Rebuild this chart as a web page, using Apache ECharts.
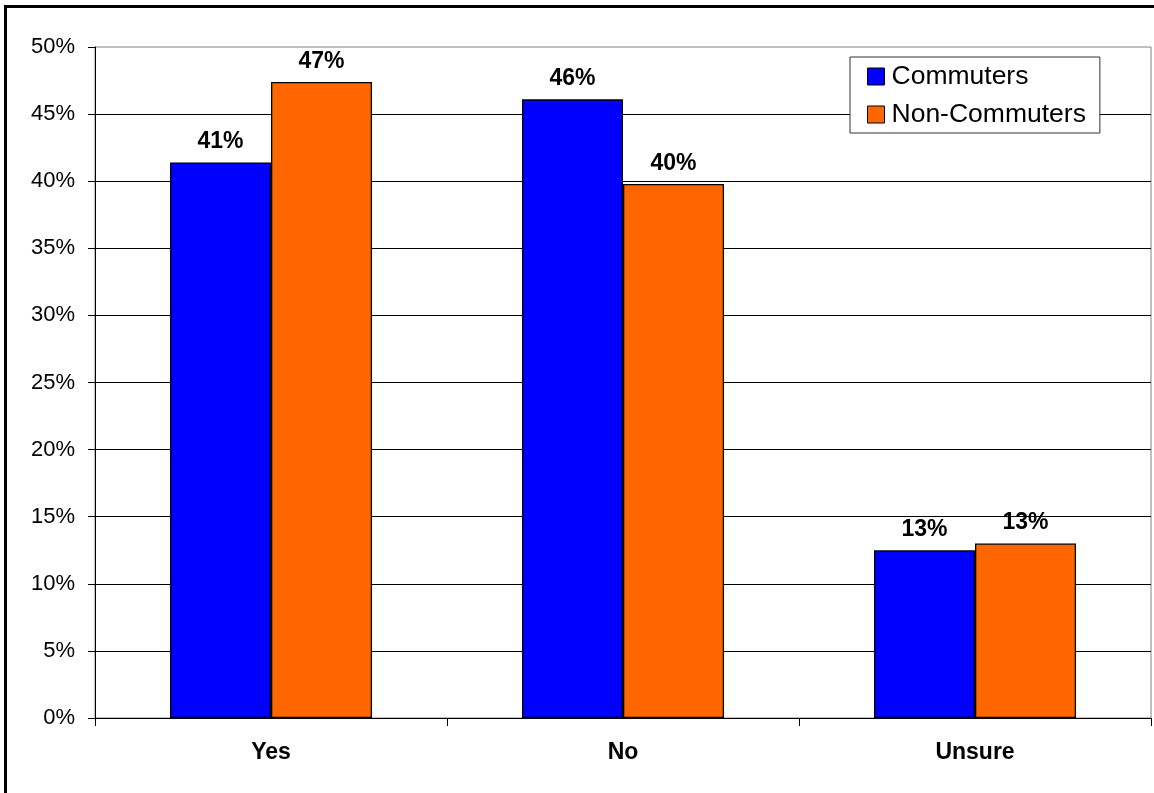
<!DOCTYPE html>
<html>
<head>
<meta charset="utf-8">
<title>Commuters vs Non-Commuters</title>
<script src="https://cdn.jsdelivr.net/npm/echarts@6/dist/echarts.min.js"></script>
<style>
  html, body { margin: 0; padding: 0; background: #fff; }
  #chart { width: 1154px; height: 793px; }
</style>
</head>
<body>
<div id="chart"></div>
<script>
// Survey answers by group (percent of respondents)
const categories = ['Yes', 'No', 'Unsure'];
const seriesNames = ['Commuters', 'Non-Commuters'];
const commuters = [41.4, 46.1, 12.5];
const nonCommuters = [47.4, 39.8, 13.0];
const yTicks = { min: 0, max: 50, step: 5 };

const FONT = '"Liberation Sans", Arial, sans-serif';

const chart = echarts.init(document.getElementById('chart'), null, { renderer: 'canvas' });

const valueLabel = {
  show: true,
  position: 'top',
  distance: 9,
  color: '#000',
  fontFamily: FONT,
  fontWeight: 'bold',
  fontSize: 23,
  formatter: p => Math.round(p.value) + '%'
};

chart.setOption({
  animation: false,
  backgroundColor: '#fff',
  textStyle: { fontFamily: FONT },
  graphic: [{
    // heavy outer frame
    type: 'rect',
    silent: true,
    shape: { x: 5.5, y: 6.5, width: 1300, height: 900 },
    style: { fill: null, stroke: '#000', lineWidth: 3 }
  }],
  grid: {
    left: 95, right: 3, top: 47, bottom: 75,
    show: true,
    borderColor: '#808080',
    borderWidth: 1,
    backgroundColor: 'transparent'
  },
  legend: {
    orient: 'vertical',
    left: 850,
    top: 57,
    padding: [6, 14, 5, 17],
    itemGap: 11,
    itemWidth: 17,
    itemHeight: 17,
    backgroundColor: '#fff',
    borderColor: '#333',
    borderWidth: 1,
    borderRadius: 0,
    icon: 'rect',
    itemStyle: { borderColor: '#000', borderWidth: 1 },
    textStyle: { fontFamily: FONT, fontSize: 26.5, color: '#000', padding: [0, 0, 0, 2] },
    data: seriesNames
  },
  xAxis: {
    type: 'category',
    data: categories,
    boundaryGap: true,
    axisLine: { show: true, lineStyle: { color: '#000', width: 1 } },
    axisTick: { show: true, length: 8, lineStyle: { color: '#000' } },
    axisLabel: {
      margin: 23,
      color: '#000',
      fontFamily: FONT,
      fontWeight: 'bold',
      fontSize: 23
    },
    splitLine: { show: false }
  },
  yAxis: {
    type: 'value',
    min: yTicks.min,
    max: yTicks.max,
    interval: yTicks.step,
    axisLine: { show: true, lineStyle: { color: '#000', width: 1 } },
    axisTick: { show: true, length: 7, lineStyle: { color: '#000' } },
    axisLabel: {
      margin: 20,
      color: '#000',
      fontFamily: FONT,
      fontSize: 22,
      formatter: v => v + '%'
    },
    splitLine: { show: true, showMaxLine: false, lineStyle: { color: '#000', width: 1 } }
  },
  series: [
    {
      name: seriesNames[0],
      type: 'bar',
      data: commuters,
      barGap: '0%',
      barCategoryGap: '42.6%',
      itemStyle: { color: '#0000FF', borderColor: '#000', borderWidth: 1.3 },
      label: valueLabel
    },
    {
      name: seriesNames[1],
      type: 'bar',
      data: nonCommuters,
      barGap: '0%',
      barCategoryGap: '42.6%',
      itemStyle: { color: '#FF6600', borderColor: '#000', borderWidth: 1.3 },
      label: valueLabel
    }
  ]
});
</script>
</body>
</html>
